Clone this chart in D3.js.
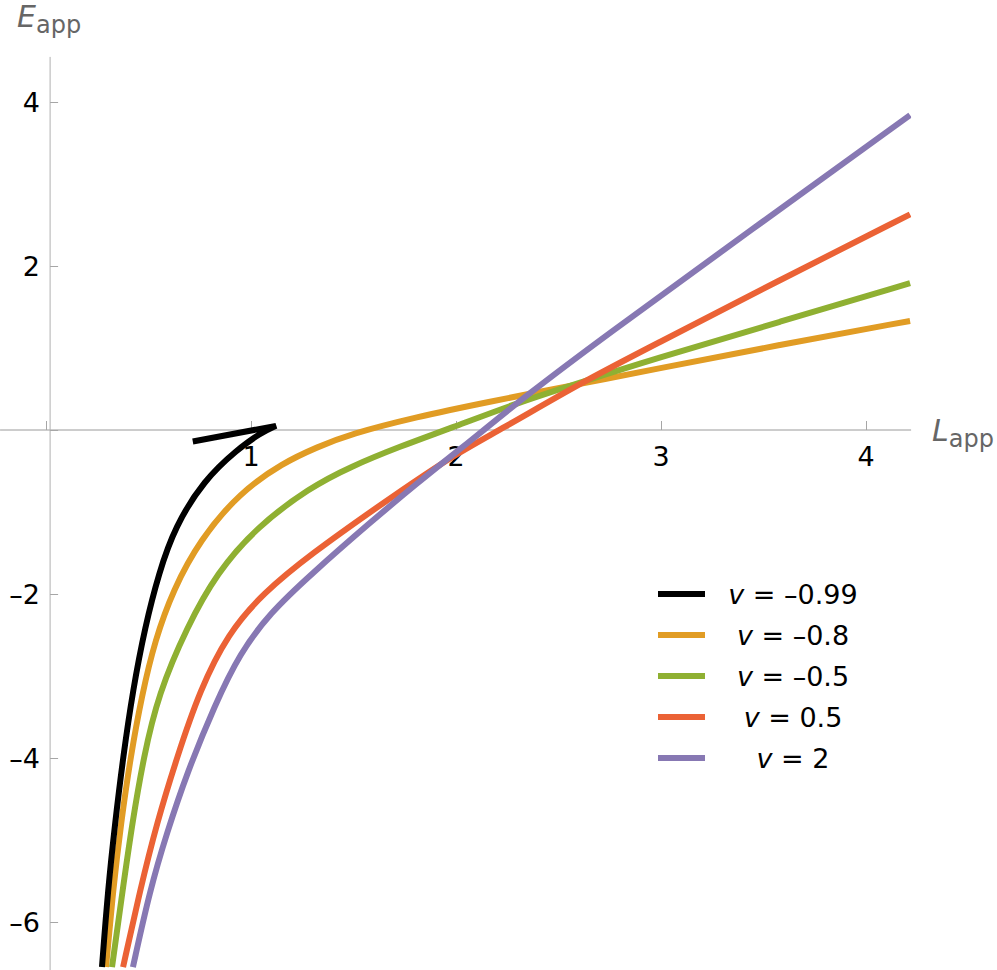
<!DOCTYPE html>
<html lang="en">

<head>
  <meta charset="UTF-8">
  <title>E_app vs L_app</title>
  <script src="https://d3js.org/d3.v7.min.js"></script>
  <style>
    body {
      margin: 0;
      background: #fff;
    }

    text {
      font-family: "DejaVu Sans", sans-serif;
    }
  </style>
</head>

<body>
  <svg width="997" height="970"></svg>

  <script>
    const width = 997, height = 970;
    const svg = d3.select("svg");

    // curves, [L, E]
    // v = -0.99 has a cusp: lower branch up to the tip, then the short branch back
    const blackLower = [[0.273, -6.55], [0.302, -5.61], [0.337, -4.79], [0.376, -3.99], [0.424, -3.17],
      [0.483, -2.40], [0.551, -1.74], [0.629, -1.18], [0.771, -0.61], [0.932, -0.24], [1.044, -0.04],
      [1.122, 0.05]];
    const blackUpper = [[1.122, 0.05], [0.716, -0.14]];
    const curveOrange = [[0.293, -6.55], [0.327, -5.61], [0.366, -4.79], [0.412, -3.99], [0.468, -3.23],
      [0.532, -2.56], [0.620, -1.95], [0.751, -1.34], [0.946, -0.76], [1.156, -0.40], [1.322, -0.21],
      [1.483, -0.05], [1.810, 0.16], [2.132, 0.33], [2.620, 0.57], [2.946, 0.73], [3.580, 1.04],
      [4.215, 1.33]];
    const curveGreen = [[0.322, -6.55], [0.374, -5.61], [0.421, -4.79], [0.476, -3.99], [0.548, -3.22],
      [0.688, -2.40], [0.834, -1.74], [1.029, -1.18], [1.288, -0.70], [1.483, -0.45], [1.727, -0.20],
      [1.971, 0.02], [2.298, 0.33], [2.620, 0.59], [2.946, 0.85], [3.580, 1.32], [4.215, 1.79]];
    const curveRed = [[0.376, -6.55], [0.459, -5.61], [0.541, -4.79], [0.639, -3.99], [0.751, -3.17],
      [0.888, -2.48], [1.059, -1.99], [1.288, -1.52], [1.644, -0.89], [1.971, -0.33], [2.215, 0.0],
      [2.620, 0.59], [2.946, 1.01], [3.580, 1.83], [4.215, 2.63]];
    const curvePurple = [[0.424, -6.55], [0.507, -5.61], [0.590, -4.91], [0.688, -4.18], [0.824, -3.35],
      [0.946, -2.72], [1.093, -2.23], [1.288, -1.77], [1.580, -1.13], [1.810, -0.65], [2.005, -0.26],
      [2.117, -0.04], [2.327, 0.39], [2.702, 1.10], [3.434, 2.43], [4.215, 3.84]];

    const labels = ["v = \u20130.99", "v = \u20130.8", "v = \u20130.5", "v = 0.5", "v = 2"];
    const colors = ["#000000", "#e19c24", "#8fb032", "#eb6235", "#8778b3"];
    const series = [curveOrange, curveGreen, curveRed, curvePurple];

    const xMajor = [0, 1, 2, 3, 4];
    const xLabels = [1, 2, 3, 4];
    const yMajor = [-6, -4, -2, 0, 2, 4];
    const yLabels = [-6, -4, -2, 2, 4];

    const x = d3.scaleLinear().domain([0, 4]).range([46, 866]);
    const y = d3.scaleLinear().domain([0, 4]).range([430, 102]);
    const xMin = -0.224, xMax = 4.22, yMin = -6.6, yMax = 4.55;
    const yAxisAt = 0.02;
    const fmt = d => (d < 0 ? "\u2013" : "") + Math.abs(d);

    svg.append("rect").attr("width", width).attr("height", height).attr("fill", "#fff");

    // x axis, ticks point up
    const gx = svg.append("g").attr("transform", `translate(0,${y(0)})`);
    gx.append("line")
      .attr("x1", x(xMin)).attr("x2", x(xMax))
      .attr("stroke", "#9a9a9a");
    gx.call(d3.axisTop(x).tickValues(d3.range(-0.2, 4.21, 0.2)).tickSize(5).tickFormat(""));
    gx.call(d3.axisTop(x).tickValues(xMajor).tickSize(9).tickFormat(""));
    gx.selectAll(".domain").remove();
    gx.selectAll(".tick line").attr("stroke", "#a6a6a6");

    svg.append("g").selectAll("text")
      .data(xLabels)
      .join("text")
      .attr("x", d => x(d))
      .attr("y", y(0) + 36)
      .attr("text-anchor", "middle")
      .attr("font-size", 27)
      .text(d => d);

    // y axis, ticks point right
    const gy = svg.append("g").attr("transform", `translate(${x(yAxisAt)},0)`);
    gy.append("line")
      .attr("y1", y(yMax)).attr("y2", y(yMin))
      .attr("stroke", "#b0b0b0");
    gy.call(d3.axisRight(y).tickValues(d3.range(-6.5, 4.51, 0.5)).tickSize(4).tickFormat(""));
    gy.call(d3.axisRight(y).tickValues(yMajor).tickSize(8).tickFormat(""));
    gy.selectAll(".domain").remove();
    gy.selectAll(".tick line").attr("stroke", "#a6a6a6");

    svg.append("g").selectAll("text")
      .data(yLabels)
      .join("text")
      .attr("x", 40)
      .attr("y", d => y(d))
      .attr("dy", "0.36em")
      .attr("text-anchor", "end")
      .attr("font-size", 27)
      .text(fmt);

    // axis labels
    const eLab = svg.append("text").attr("x", 17).attr("y", 27).attr("fill", "#666");
    eLab.append("tspan").attr("font-style", "italic").attr("font-size", 30).text("E");
    eLab.append("tspan").attr("font-size", 24).attr("dy", 6).text("app");

    const lLab = svg.append("text").attr("x", 932).attr("y", 441).attr("fill", "#666");
    lLab.append("tspan").attr("font-style", "italic").attr("font-size", 30).text("L");
    lLab.append("tspan").attr("font-size", 24).attr("dy", 6).text("app");

    // curves
    svg.append("clipPath").attr("id", "plot")
      .append("rect")
      .attr("x", x(xMin)).attr("y", y(yMax))
      .attr("width", x(xMax) - x(xMin)).attr("height", y(yMin) - y(yMax));

    const line = d3.line()
      .x(d => x(d[0]))
      .y(d => y(d[1]))
      .curve(d3.curveBasis);
    const straight = d3.line()
      .x(d => x(d[0]))
      .y(d => y(d[1]));

    const plot = svg.append("g").attr("clip-path", "url(#plot)");

    plot.selectAll("path.curve")
      .data(series)
      .join("path")
      .attr("class", "curve")
      .attr("d", line)
      .attr("fill", "none")
      .attr("stroke", (d, i) => colors[i + 1])
      .attr("stroke-width", 6);

    plot.append("path")
      .attr("d", line(blackLower) + straight(blackUpper).replace("M", "L"))
      .attr("fill", "none")
      .attr("stroke", colors[0])
      .attr("stroke-width", 6)
      .attr("stroke-linejoin", "bevel");

    // legend
    const legend = svg.append("g").selectAll("g")
      .data(labels)
      .join("g")
      .attr("transform", (d, i) => `translate(0,${594 + i * 41})`);

    legend.append("line")
      .attr("x1", 658).attr("x2", 705)
      .attr("stroke", (d, i) => colors[i])
      .attr("stroke-width", 6);

    legend.append("text")
      .attr("x", 793)
      .attr("dy", "0.36em")
      .attr("text-anchor", "middle")
      .attr("font-size", 27)
      .each(function (d) {
        const t = d3.select(this);
        t.append("tspan").attr("font-style", "italic").text("v");
        t.append("tspan").text(d.slice(1));
      });
  </script>
</body>

</html>
